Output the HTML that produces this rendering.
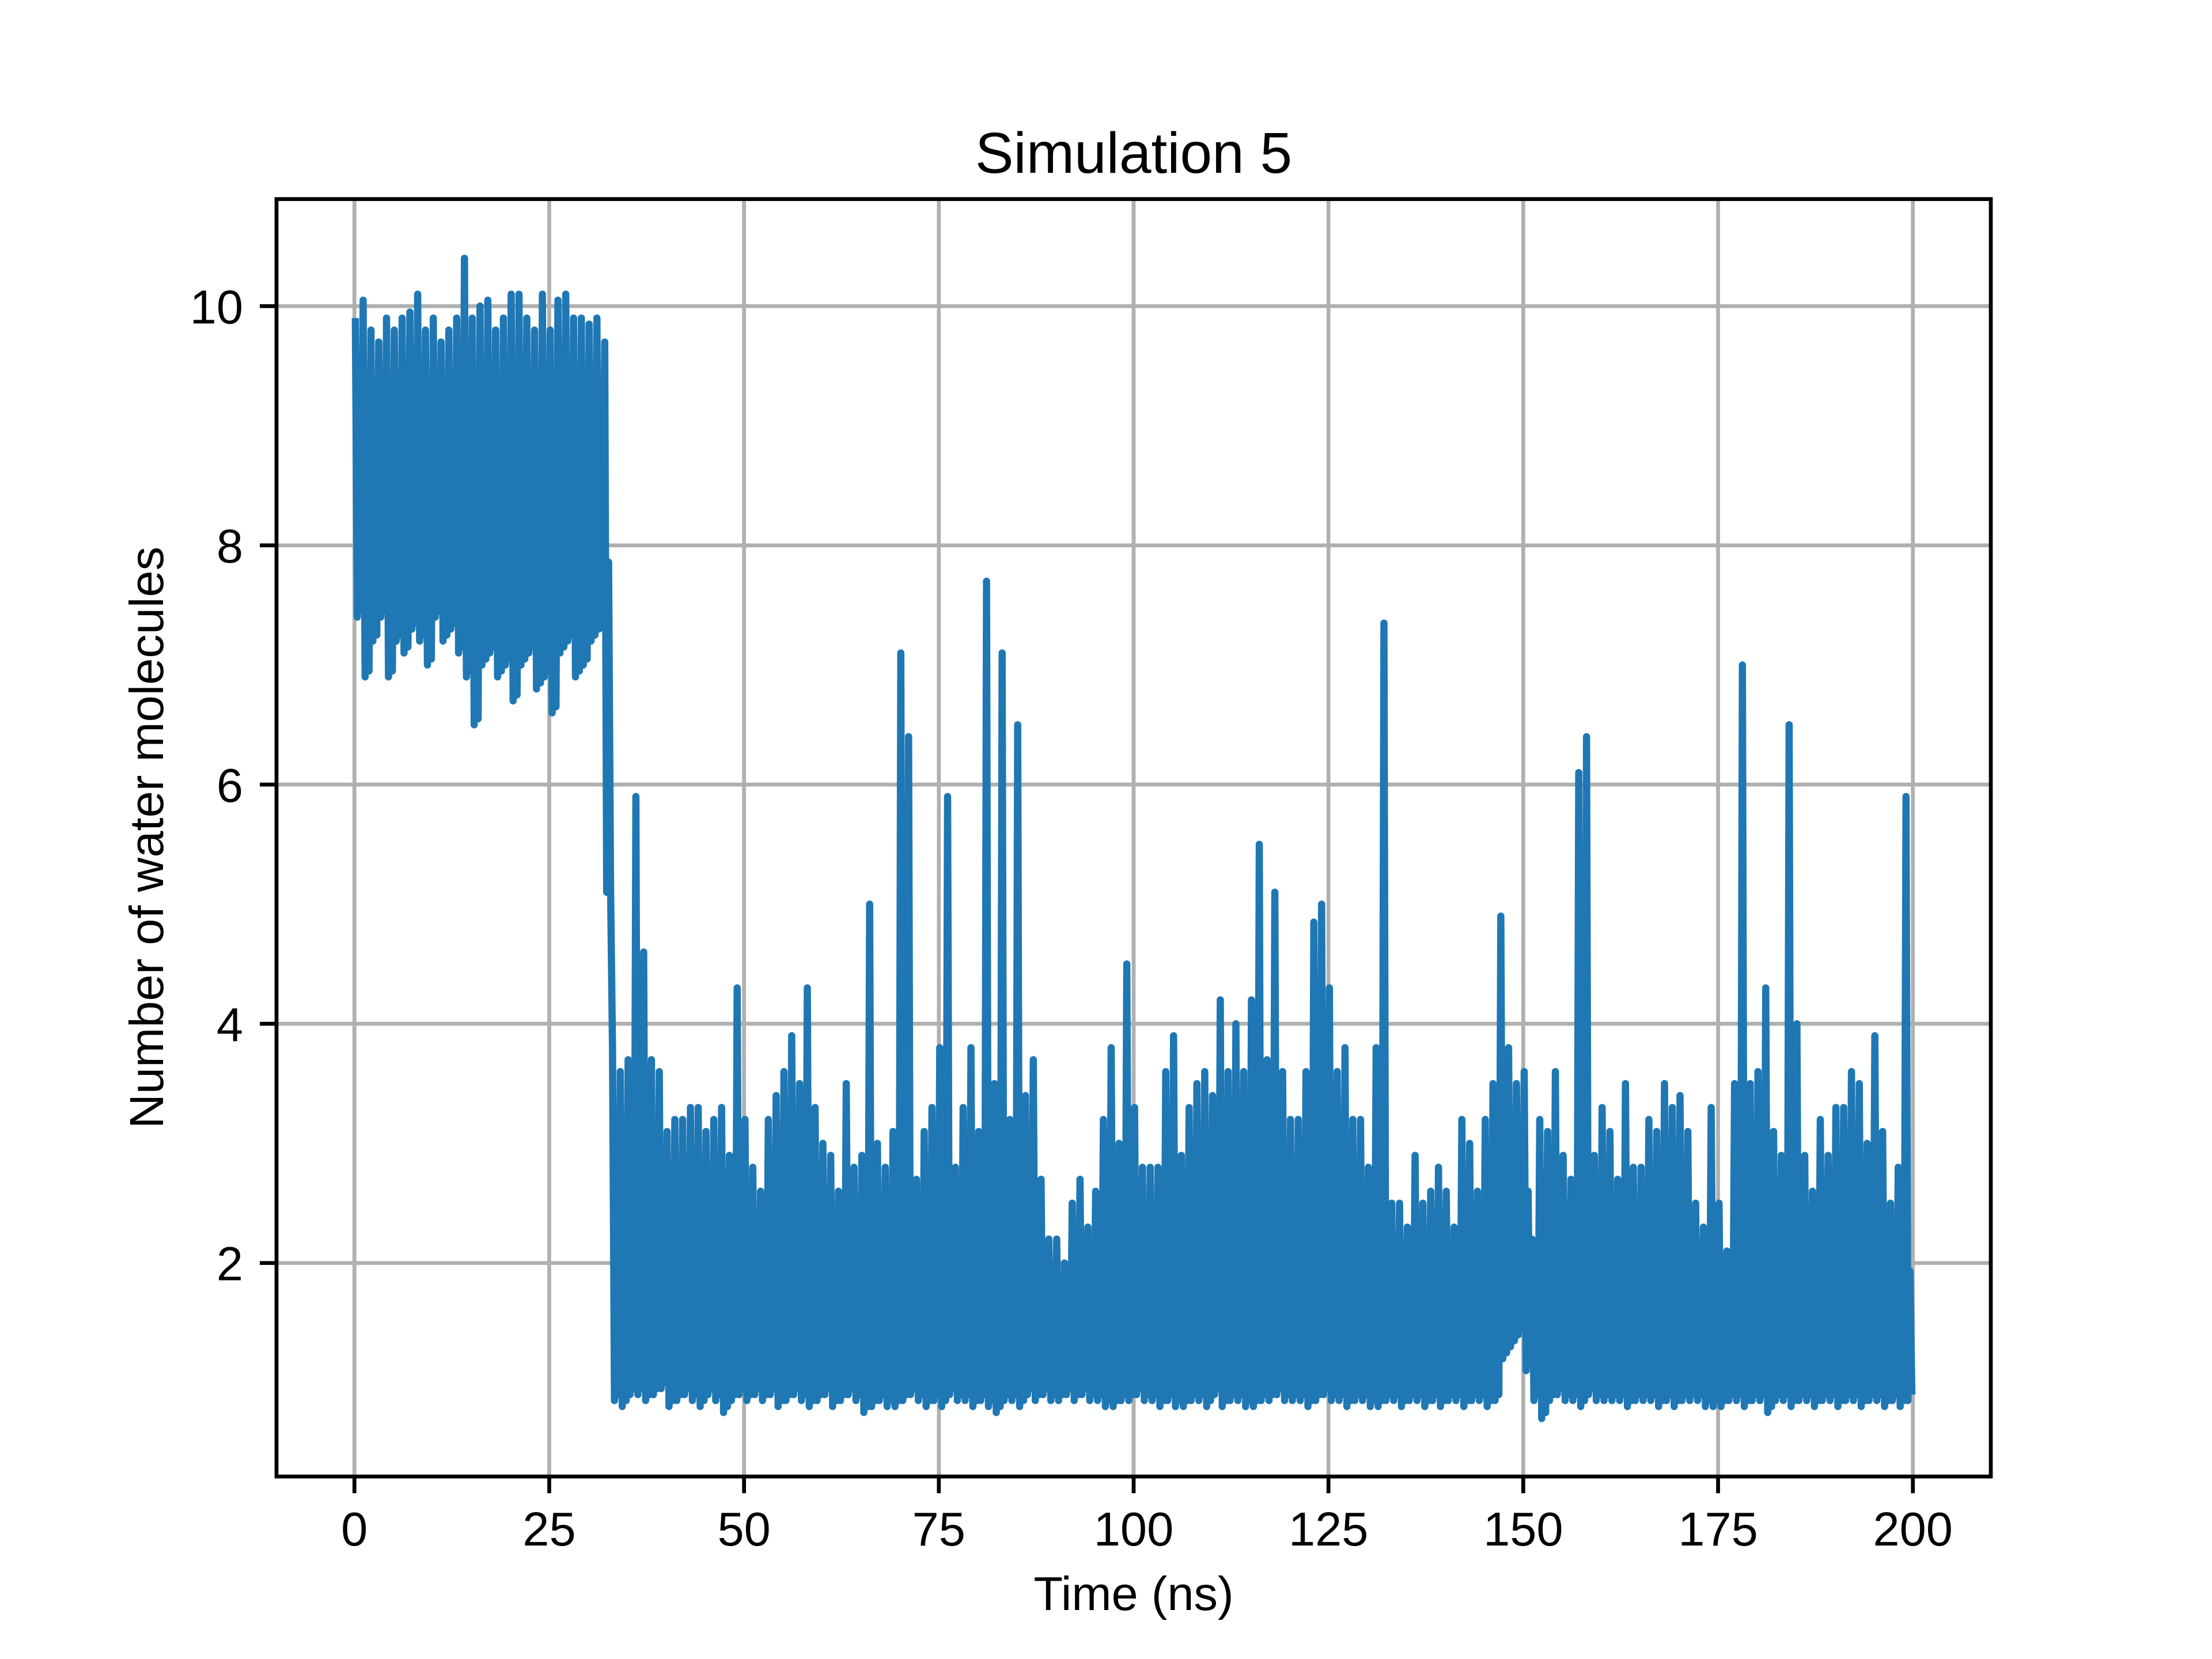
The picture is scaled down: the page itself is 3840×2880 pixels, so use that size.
<!DOCTYPE html>
<html>
<head>
<meta charset="utf-8">
<style>
html,body{margin:0;padding:0;background:#fff;}
svg{display:block;font-family:"Liberation Sans",Arial,sans-serif;}
</style>
</head>
<body>
<svg id="chart" width="3840" height="2880" viewBox="0 0 3840 2880" xmlns="http://www.w3.org/2000/svg">
<rect width="3840" height="2880" fill="#fff"/>
<g id="grid"></g>
<g id="series"></g>
<g id="axes"></g>
<text x="1968" y="300" font-size="100" text-anchor="middle">Simulation 5</text>
<text x="1968" y="2795" font-size="83" text-anchor="middle">Time (ns)</text>
<text x="0" y="0" font-size="83" text-anchor="middle" transform="translate(283,1454) rotate(-90)">Number of water molecules</text>
</svg>
<script>
const xTicks = [0,25,50,75,100,125,150,175,200];
const yTicks = [2,4,6,8,10];
const highs = [9.9,10.05,9.8,9.7,9.9,9.8,9.9,9.95,10.1,9.8,9.9,9.7,9.8,9.9,10.4,9.9,10.0,10.05,9.8,9.9,10.1,10.1,9.9,9.8,10.1,9.8,10.05,10.1,9.9,9.9,9.85,9.9,9.7,
3.8,3.6,3.7,5.9,4.6,3.7,3.6,3.1,3.2,3.2,
3.3,3.3,3.1,3.2,3.3,2.9,4.3,3.2,2.8,2.6,
3.2,3.4,3.6,3.9,3.5,4.3,3.3,3.0,2.9,2.6,
3.5,2.8,2.9,5.0,3.0,2.8,3.1,7.1,6.4,2.7,
3.1,3.3,3.8,5.9,2.8,3.3,3.8,3.1,7.7,3.5,
7.1,3.2,6.5,3.4,3.7,2.7,2.2,2.2,2.0,2.5,
2.7,2.3,2.6,3.2,3.8,3.0,4.5,3.3,2.8,2.8,
2.8,3.6,3.9,2.9,3.3,3.5,3.6,3.4,4.2,3.6,
4.0,3.6,4.2,5.5,3.7,5.1,3.6,3.2,3.2,3.6,
4.85,5.0,4.3,3.6,3.8,3.2,3.2,2.8,3.8,7.35,
2.5,2.5,2.3,2.9,2.5,2.6,2.8,2.6,2.3,3.2,
3.0,2.6,3.2,3.5,4.9,3.8,3.5,3.6,2.2,3.2,
3.1,3.6,2.9,2.7,6.1,6.4,2.9,3.3,3.1,2.7,
3.5,2.8,2.8,3.2,3.1,3.5,3.3,3.4,3.1,2.5,
2.3,3.3,2.5,2.1,3.5,7.0,3.5,3.6,4.3,3.1,
2.9,6.5,4.0,2.9,2.6,3.2,2.9,3.3,3.3,3.6,
3.5,3.0,3.9,3.1,2.5,2.8,5.9];
const lows = [7.4,6.9,7.2,7.4,6.9,7.2,7.1,7.3,7.2,7.0,7.4,7.2,7.3,7.1,6.9,6.5,7.0,7.1,6.9,7.0,6.7,7.0,7.1,6.8,6.9,6.6,7.1,7.2,6.9,7.0,7.2,7.3,5.1,
0.85,0.8,0.9,0.9,0.85,0.9,0.95,0.8,0.85,0.9,
0.85,0.8,0.9,0.85,0.75,0.85,0.9,0.85,0.9,0.85,
0.9,0.8,0.85,0.9,0.85,0.8,0.85,0.9,0.8,0.85,
0.9,0.85,0.75,0.8,0.85,0.8,0.8,0.85,0.9,0.85,
0.8,0.85,0.8,0.9,0.85,0.85,0.8,0.85,0.8,0.75,
0.85,0.85,0.8,0.9,0.85,0.9,0.85,0.85,0.9,0.85,
0.9,0.85,0.85,0.8,0.8,0.85,0.85,0.9,0.85,0.85,
0.8,0.85,0.8,0.8,0.85,0.85,0.8,0.9,0.8,0.85,
0.85,0.8,0.8,0.85,0.85,0.9,0.85,0.85,0.85,0.8,
0.85,0.9,0.85,0.85,0.8,0.85,0.85,0.8,0.8,0.85,
0.85,0.8,0.85,0.85,0.8,0.85,0.8,0.85,0.85,0.8,
0.85,0.85,0.8,0.85,1.2,1.3,1.4,1.1,0.85,0.7,
0.85,0.9,0.85,0.85,0.8,0.9,0.85,0.85,0.85,0.85,
0.8,0.85,0.85,0.85,0.8,0.85,0.8,0.85,0.85,0.85,
0.8,0.8,0.8,0.85,0.85,0.8,0.85,0.85,0.75,0.85,
0.85,0.8,0.85,0.85,0.8,0.85,0.85,0.8,0.85,0.85,
0.8,0.85,0.85,0.8,0.85,0.8,0.85];

const L=480,R=3456,T=345.6,B=2563.2;
const xMin=-10,xMax=210,yMin=0.215,yMax=10.895;
const xs=v=>L+(v-xMin)/(xMax-xMin)*(R-L);
const ys=v=>B-(v-yMin)/(yMax-yMin)*(B-T);
const NS="http://www.w3.org/2000/svg";
function mk(tag,attrs,parent){const e=document.createElementNS(NS,tag);for(const k in attrs)e.setAttribute(k,attrs[k]);parent.appendChild(e);return e;}
const grid=document.getElementById('grid'),axes=document.getElementById('axes'),series=document.getElementById('series');

xTicks.forEach(t=>{
  const x=xs(t);
  const g=mk('line',{x1:x,x2:x,y1:T,y2:B,stroke:'#b0b0b0','stroke-width':6.7},grid);
  
  
  const tk=mk('line',{x1:x,x2:x,y1:B,y2:B+29,stroke:'#000','stroke-width':6.7},axes);
  
  
  const lb=mk('text',{x:x,y:B+58+62,'font-size':83,'text-anchor':'middle'},axes);
  lb.textContent=t;
  
  
});
yTicks.forEach(t=>{
  const y=ys(t);
  const g=mk('line',{x1:L,x2:R,y1:y,y2:y,stroke:'#b0b0b0','stroke-width':6.7},grid);
  
  
  const tk=mk('line',{x1:L-29,x2:L,y1:y,y2:y,stroke:'#000','stroke-width':6.7},axes);
  
  
  const lb=mk('text',{x:L-58,y:y+30,'font-size':83,'text-anchor':'end'},axes);
  lb.textContent=t;
  
  
});

const n=Math.min(highs.length,lows.length);
let pts=[];
for(let i=0;i<n;i++){
  const mid=lows[i]+0.6*(highs[i]-lows[i] > 2.5 && i>32 ? 1.8 : (highs[i]-lows[i]));
  pts.push(xs(i+0.12).toFixed(1)+','+ys(highs[i]).toFixed(1));
  pts.push(xs(i+0.37).toFixed(1)+','+ys(lows[i]).toFixed(1));
  pts.push(xs(i+0.62).toFixed(1)+','+ys(Math.min(mid,highs[i])).toFixed(1));
  pts.push(xs(i+0.87).toFixed(1)+','+ys(lows[i]+0.05).toFixed(1));
}
const line=mk('polyline',{points:pts.join(' '),fill:'none',stroke:'#1f77b4','stroke-width':12.5,'stroke-linejoin':'round'},series);



const frame=mk('rect',{x:L,y:T,width:R-L,height:B-T,fill:'none',stroke:'#000','stroke-width':6.7},axes);


</script>
</body>
</html>
